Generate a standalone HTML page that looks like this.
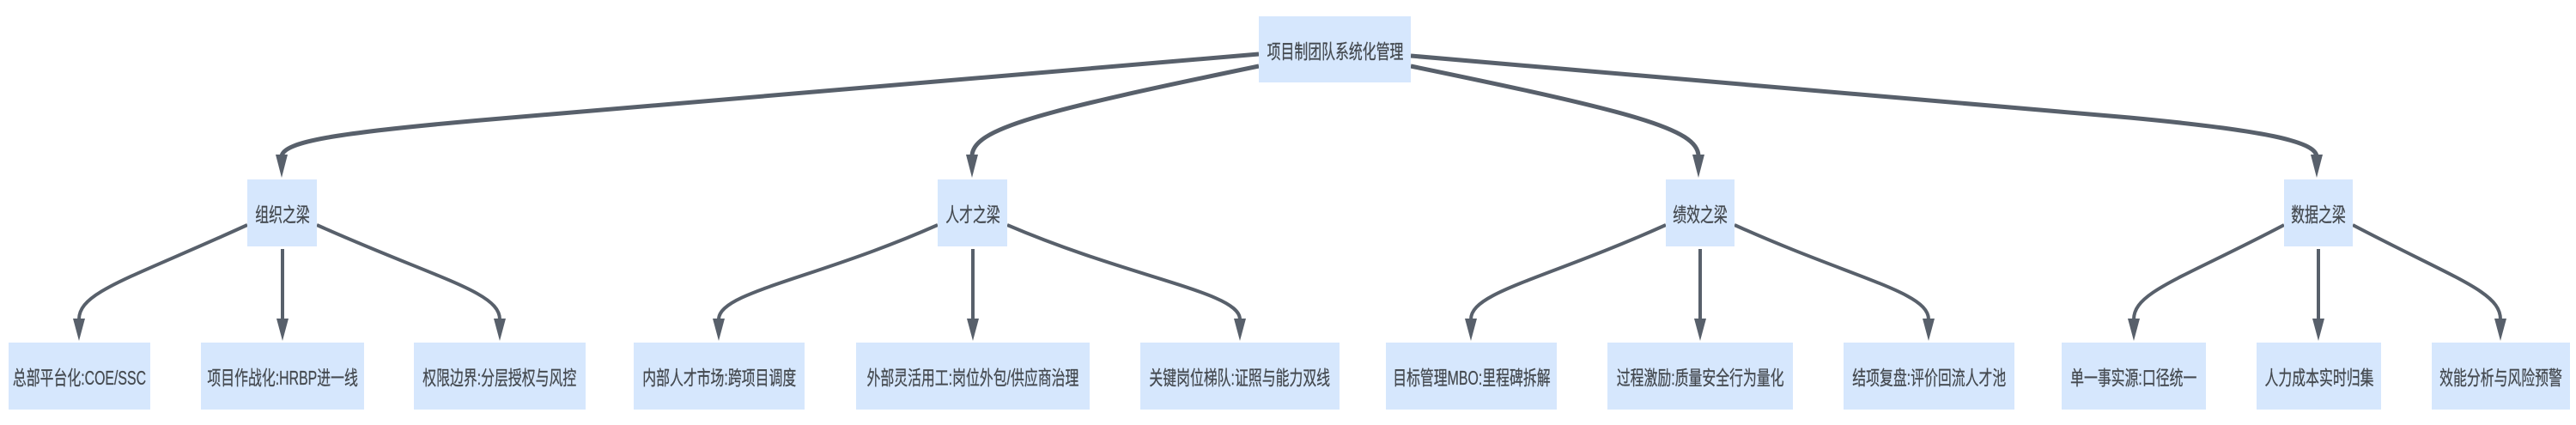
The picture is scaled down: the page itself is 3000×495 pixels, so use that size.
<!DOCTYPE html>
<html><head><meta charset="utf-8">
<style>
html,body{margin:0;padding:0;background:#fff;}
#c{position:relative;width:3000px;height:495px;overflow:hidden;background:#fff;}
.n{position:absolute;background:#d6e7fd;display:flex;align-items:center;justify-content:center;}
.n span{display:inline-block;white-space:nowrap;font-family:"Liberation Sans","Noto Sans CJK SC",sans-serif;font-size:23px;color:#454a50;transform:scaleX(0.69);-webkit-text-stroke:0.3px #454a50;}
svg{position:absolute;left:0;top:0;}
</style></head><body><div id="c">
<svg width="3000" height="495" viewBox="0 0 3000 495">
<g fill="none" stroke="#58606b" stroke-width="5">
<path d="M1466 63 L560 140 C390 155 330 165 328 182"/>
<path d="M1466 77 C1210 130 1132 150 1132 182"/>
<path d="M1643 77 C1900 130 1978 150 1978 182"/>
<path d="M1643 65 L2480 137 C2640 152 2696 165 2698 182"/>
</g>
<g fill="none" stroke="#58606b" stroke-width="4">
<path d="M288 262 C150 325 92 340 92 372"/>
<path d="M329 290 L329 372"/>
<path d="M369 262 C510 325 582 340 582 372"/>
<path d="M1092 262 C950 325 837 340 837 372"/>
<path d="M1133 290 L1133 372"/>
<path d="M1173 262 C1320 325 1444 340 1444 372"/>
<path d="M1940 262 C1800 325 1713 340 1713 372"/>
<path d="M1980 290 L1980 372"/>
<path d="M2020 262 C2160 325 2246 340 2246 372"/>
<path d="M2660 262 C2540 325 2485 340 2485 372"/>
<path d="M2700 290 L2700 372"/>
<path d="M2740 262 C2860 325 2912 340 2912 372"/>
</g>
<g fill="#58606b">
<polygon points="321,180 335,180 328,207"/>
<polygon points="1125,180 1139,180 1132,207"/>
<polygon points="1971,180 1985,180 1978,207"/>
<polygon points="2691,180 2705,180 2698,207"/>
<polygon points="85,371 99,371 92,397"/>
<polygon points="322,371 336,371 329,397"/>
<polygon points="575,371 589,371 582,397"/>
<polygon points="830,371 844,371 837,397"/>
<polygon points="1126,371 1140,371 1133,397"/>
<polygon points="1437,371 1451,371 1444,397"/>
<polygon points="1706,371 1720,371 1713,397"/>
<polygon points="1973,371 1987,371 1980,397"/>
<polygon points="2239,371 2253,371 2246,397"/>
<polygon points="2478,371 2492,371 2485,397"/>
<polygon points="2693,371 2707,371 2700,397"/>
<polygon points="2905,371 2919,371 2912,397"/>
</g>
</svg>
<div class="n" style="left:1466px;top:19px;width:177px;height:77px"><span>项目制团队系统化管理</span></div>
<div class="n" style="left:288px;top:209px;width:81px;height:78px"><span>组织之梁</span></div>
<div class="n" style="left:1092px;top:209px;width:81px;height:78px"><span>人才之梁</span></div>
<div class="n" style="left:1940px;top:209px;width:80px;height:78px"><span>绩效之梁</span></div>
<div class="n" style="left:2660px;top:209px;width:80px;height:78px"><span>数据之梁</span></div>
<div class="n" style="left:10px;top:399px;width:165px;height:78px"><span>总部平台化:COE/SSC</span></div>
<div class="n" style="left:234px;top:399px;width:190px;height:78px"><span>项目作战化:HRBP进一线</span></div>
<div class="n" style="left:482px;top:399px;width:200px;height:78px"><span>权限边界:分层授权与风控</span></div>
<div class="n" style="left:738px;top:399px;width:199px;height:78px"><span>内部人才市场:跨项目调度</span></div>
<div class="n" style="left:997px;top:399px;width:272px;height:78px"><span>外部灵活用工:岗位外包/供应商治理</span></div>
<div class="n" style="left:1328px;top:399px;width:232px;height:78px"><span>关键岗位梯队:证照与能力双线</span></div>
<div class="n" style="left:1614px;top:399px;width:199px;height:78px"><span>目标管理MBO:里程碑拆解</span></div>
<div class="n" style="left:1872px;top:399px;width:216px;height:78px"><span>过程激励:质量安全行为量化</span></div>
<div class="n" style="left:2147px;top:399px;width:199px;height:78px"><span>结项复盘:评价回流人才池</span></div>
<div class="n" style="left:2401px;top:399px;width:168px;height:78px"><span>单一事实源:口径统一</span></div>
<div class="n" style="left:2628px;top:399px;width:145px;height:78px"><span>人力成本实时归集</span></div>
<div class="n" style="left:2832px;top:399px;width:161px;height:78px"><span>效能分析与风险预警</span></div>
</div></body></html>
